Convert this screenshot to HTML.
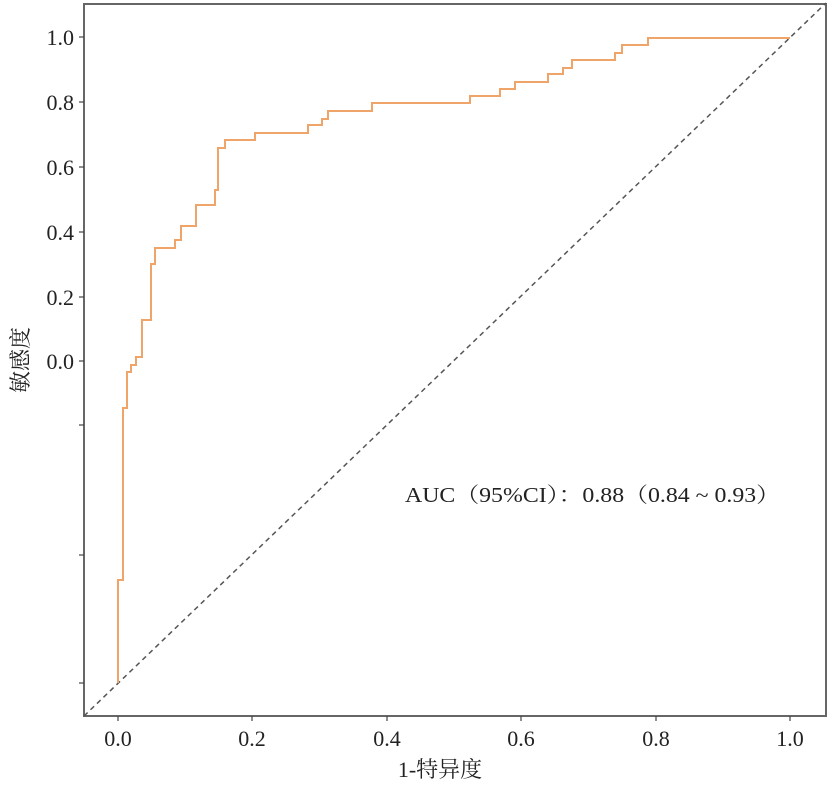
<!DOCTYPE html>
<html><head><meta charset="utf-8"><style>
body{margin:0;background:#fff;}
svg text{font-family:"Liberation Serif","Noto Serif CJK SC",serif;fill:#222;}
</style></head><body>
<svg width="828" height="781" xmlns="http://www.w3.org/2000/svg">
<rect x="84" y="4" width="742" height="712" fill="none" stroke="#666" stroke-width="2"/>
<g stroke="#444" stroke-width="1.2">
<line x1="79" y1="37" x2="84" y2="37"/><line x1="79" y1="102" x2="84" y2="102"/>
<line x1="79" y1="167" x2="84" y2="167"/><line x1="79" y1="232" x2="84" y2="232"/>
<line x1="79" y1="297" x2="84" y2="297"/><line x1="79" y1="361" x2="84" y2="361"/>
<line x1="79" y1="425" x2="84" y2="425"/><line x1="79" y1="555" x2="84" y2="555"/>
<line x1="79" y1="683" x2="84" y2="683"/>
<line x1="118" y1="716" x2="118" y2="721"/><line x1="252" y1="716" x2="252" y2="721"/>
<line x1="387" y1="716" x2="387" y2="721"/><line x1="521" y1="716" x2="521" y2="721"/>
<line x1="656" y1="716" x2="656" y2="721"/><line x1="790" y1="716" x2="790" y2="721"/>
</g>
<g font-size="22" text-anchor="end">
<text x="74" y="45">1.0</text><text x="74" y="110">0.8</text><text x="74" y="175">0.6</text>
<text x="74" y="240">0.4</text><text x="74" y="305">0.2</text><text x="74" y="369">0.0</text>
</g>
<g font-size="22" text-anchor="middle">
<text x="118" y="746">0.0</text><text x="252" y="746">0.2</text><text x="387" y="746">0.4</text>
<text x="521" y="746">0.6</text><text x="656" y="746">0.8</text><text x="790" y="746">1.0</text>
</g>
<text x="440" y="777" font-size="22" text-anchor="middle">1-特异度</text>
<text transform="translate(28,360) rotate(-90)" font-size="22" text-anchor="middle">敏感度</text>
<line x1="84" y1="716" x2="826" y2="3" stroke="#555" stroke-width="1.5" stroke-dasharray="5,4"/>
<polyline fill="none" stroke="#EFA56A" stroke-width="2" points="118,683 118,580 123,580 123,408 127,408 127,372 131,372 131,365 136,365 136,357 142,357 142,320 151,320 151,264 155,264 155,248 175,248 175,240 181,240 181,226 196,226 196,205 215,205 215,190 218,190 218,148 225,148 225,140 255,140 255,133 308,133 308,125 322,125 322,119 328,119 328,111 372,111 372,103 470,103 470,96 500,96 500,89 515,89 515,82 548,82 548,74 563,74 563,68 572,68 572,60 615,60 615,53 622,53 622,45 648,45 648,38 790,38"/>
<text x="405" y="502" font-size="21" textLength="375" lengthAdjust="spacingAndGlyphs">AUC（95%CI）：0.88（0.84 ~ 0.93）</text>
</svg>
</body></html>
